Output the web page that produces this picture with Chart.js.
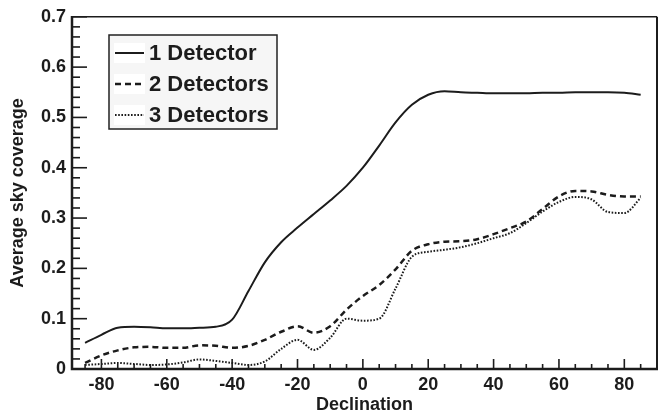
<!DOCTYPE html>
<html>
<head>
<meta charset="utf-8">
<script src="https://cdn.jsdelivr.net/npm/chart.js@4/dist/chart.umd.min.js"></script>
<style>
html,body{margin:0;padding:0;background:#fff;}
canvas{display:block;}
</style>
</head>
<body>
<canvas id="c" width="669" height="418"></canvas>
<script>
// ---- data ----
const declination = [-85,-80,-75,-70,-65,-60,-55,-50,-45,-40,-35,-30,-25,-20,-15,-10,-5,0,5,10,15,20,25,30,35,40,45,50,55,60,65,70,75,80,85];
const oneDetector = [0.052,0.068,0.082,0.084,0.083,0.081,0.081,0.082,0.084,0.098,0.155,0.212,0.252,0.281,0.308,0.335,0.364,0.400,0.444,0.490,0.525,0.545,0.552,0.550,0.549,0.548,0.548,0.548,0.549,0.549,0.550,0.550,0.550,0.549,0.545];
const twoDetectors = [0.012,0.027,0.037,0.043,0.044,0.042,0.042,0.047,0.046,0.042,0.046,0.058,0.074,0.085,0.072,0.085,0.118,0.145,0.167,0.198,0.235,0.248,0.253,0.254,0.258,0.268,0.280,0.293,0.318,0.343,0.354,0.353,0.346,0.343,0.343];
const threeDetectors = [0.008,0.010,0.012,0.010,0.008,0.009,0.013,0.019,0.016,0.012,0.008,0.015,0.040,0.058,0.038,0.062,0.100,0.096,0.100,0.160,0.223,0.233,0.237,0.242,0.250,0.260,0.270,0.290,0.313,0.332,0.342,0.337,0.312,0.310,0.340];
const seriesNames = ['1 Detector','2 Detectors','3 Detectors'];
const xTickValues = [-80,-60,-40,-20,0,20,40,60,80];
const xTickLabels = ['-80','-60','-40','-20','0','20','40','60','80'];
const yTickValues = [0,0.1,0.2,0.3,0.4,0.5,0.6,0.7];
const yTickLabels = ['0','0.1','0.2','0.3','0.4','0.5','0.6','0.7'];
const xLabel = 'Declination';
const yLabel = 'Average sky coverage';

const pts = arr => declination.map((d,i)=>({x:d,y:arr[i]}));
const INK = '#1c1c1c';
const FONT = '"Liberation Sans", Arial, Helvetica, sans-serif';

const framePlugin = {
  id:'frame',
  afterDatasetsDraw(chart){
    const ctx = chart.ctx, a = chart.chartArea;
    const xs = chart.scales.x, ys = chart.scales.y;
    ctx.save();
    ctx.strokeStyle = INK;
    ctx.lineCap = 'butt';
    ctx.lineWidth = 1.5;
    ctx.beginPath(); ctx.moveTo(a.left, a.top); ctx.lineTo(a.right, a.top); ctx.stroke();
    ctx.lineWidth = 2;
    ctx.beginPath(); ctx.moveTo(a.right, a.top); ctx.lineTo(a.right, a.bottom); ctx.stroke();
    ctx.lineWidth = 2.5;
    ctx.beginPath(); ctx.moveTo(a.left, a.top-0.75); ctx.lineTo(a.left, a.bottom); ctx.lineTo(a.right+1, a.bottom); ctx.stroke();
    ctx.lineWidth = 1.6;
    for (let v = -85; v <= 85; v += 5) {
      const px = xs.getPixelForValue(v);
      const len = (v % 20 === 0) ? 10 : 5;
      ctx.beginPath(); ctx.moveTo(px, a.bottom); ctx.lineTo(px, a.bottom - len); ctx.stroke();
    }
    for (let k = 0; k <= 35; k++) {
      const v = k*0.02;
      const py = ys.getPixelForValue(v);
      const len = (k % 5 === 0) ? 15 : 8;
      ctx.beginPath(); ctx.moveTo(a.left, py); ctx.lineTo(a.left + len, py); ctx.stroke();
    }
    ctx.restore();
  },
  afterDraw(chart){
    const ctx = chart.ctx;
    const bx = 109, by = 35, bw = 168, bh = 94;
    ctx.save();
    ctx.fillStyle = '#f6f6f6';
    ctx.fillRect(bx, by, bw, bh);
    ctx.strokeStyle = '#222';
    ctx.lineWidth = 1.5;
    ctx.strokeRect(bx, by, bw, bh);
    const rows = [53, 84, 115];
    chart.data.datasets.forEach((ds, i) => {
      const y = rows[i];
      ctx.fillStyle = '#ffffff';
      ctx.fillRect(114, y - 10, 31, 20);
      ctx.strokeStyle = ds.borderColor;
      ctx.lineWidth = ds.borderWidth;
      ctx.setLineDash(ds.borderDash || []);
      ctx.beginPath(); ctx.moveTo(115, y); ctx.lineTo(144, y); ctx.stroke();
      ctx.setLineDash([]);
      ctx.fillStyle = INK;
      ctx.font = 'bold 22px ' + FONT;
      ctx.textBaseline = 'middle';
      ctx.textAlign = 'left';
      ctx.fillText(ds.label, 149, y + 1);
    });
    ctx.restore();
  }
};

new Chart(document.getElementById('c'), {
  type:'line',
  data:{
    datasets:[
      {label:seriesNames[0], data:pts(oneDetector), borderColor:INK, borderWidth:2, borderDash:[], pointRadius:0, cubicInterpolationMode:'monotone', fill:false},
      {label:seriesNames[1], data:pts(twoDetectors), borderColor:INK, borderWidth:2.5, borderDash:[6,4], pointRadius:0, cubicInterpolationMode:'monotone', fill:false},
      {label:seriesNames[2], data:pts(threeDetectors), borderColor:INK, borderWidth:2, borderDash:[1.6,1.6], pointRadius:0, cubicInterpolationMode:'monotone', fill:false}
    ]
  },
  options:{
    responsive:false,
    animation:false,
    devicePixelRatio:1,
    layout:{padding:{left:0, right:12, top:13, bottom:0}},
    plugins:{legend:{display:false}, tooltip:{enabled:false}},
    scales:{
      x:{
        type:'linear', min:-89, max:90,
        grid:{display:false, drawTicks:false},
        border:{display:false},
        afterBuildTicks(s){ s.ticks = xTickValues.map(v=>({value:v})); },
        afterFit(s){ s.height = 49; },
        ticks:{
          color:INK, font:{family:FONT, size:18, weight:'bold'}, padding:5, maxRotation:0, autoSkip:false,
          callback:(v)=>{ const i = xTickValues.indexOf(v); return i>=0 ? xTickLabels[i] : ''; }
        },
        title:{display:true, text:xLabel, color:INK, font:{family:FONT, size:18, weight:'bold'}, padding:{top:0, bottom:2}}
      },
      y:{
        type:'linear', min:0, max:0.7,
        grid:{display:false, drawTicks:false},
        border:{display:false},
        afterBuildTicks(s){ s.ticks = yTickValues.map(v=>({value:v})); },
        afterFit(s){ s.width = 72; },
        ticks:{
          color:INK, font:{family:FONT, size:18, weight:'bold'}, padding:6,
          callback:(v)=>{ const i = yTickValues.findIndex(t=>Math.abs(t-v)<1e-9); return i>=0 ? yTickLabels[i] : ''; }
        },
        title:{display:true, text:yLabel, color:INK, font:{family:FONT, size:18, weight:'bold'}, padding:{top:7, bottom:0}}
      }
    }
  },
  plugins:[framePlugin]
});
</script>
</body>
</html>
